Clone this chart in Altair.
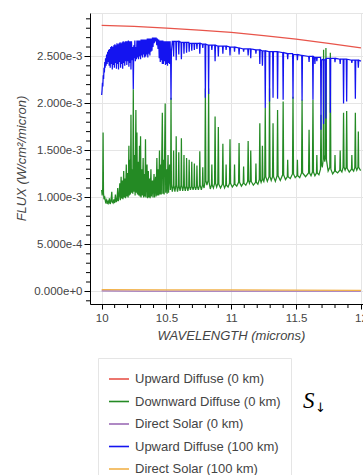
import altair as alt
import pandas as pd

# Flux values below are in units of 1e-3 W/cm^2/micron
UNIT = 1e-3

SERIES = ["Upward Diffuse (0 km)", "Downward Diffuse (0 km)", "Direct Solar (0 km)",
          "Upward Diffuse (100 km)", "Direct Solar (100 km)"]
COLORS = ["#e8544a", "#248a24", "#9b6bb5", "#1414f0", "#f2b24a"]

RED = [(10.00, 2.83), (10.25, 2.82), (10.50, 2.80), (10.75, 2.78), (11.00, 2.755),
       (11.25, 2.72), (11.50, 2.685), (11.75, 2.64), (12.00, 2.59)]

GREEN = [
    (10.000, 1.08), (10.004, 1.02), (10.008, 1.10), (10.011, 1.69), (10.014, 1.05), (10.018, 0.98),
    (10.024, 1.00), (10.030, 0.95), (10.036, 0.97), (10.042, 0.93), (10.048, 0.96), (10.054, 0.94),
    (10.060, 0.99), (10.066, 0.93), (10.072, 0.96), (10.078, 1.06), (10.082, 0.95), (10.088, 0.94),
    (10.094, 0.98), (10.100, 0.94), (10.106, 1.03), (10.112, 0.95), (10.118, 0.97), (10.124, 1.10),
    (10.128, 0.96), (10.134, 1.02), (10.140, 1.15), (10.144, 0.97), (10.150, 1.22), (10.154, 0.99),
    (10.160, 1.18), (10.164, 0.98), (10.170, 1.28), (10.174, 1.00), (10.180, 1.20), (10.184, 0.99),
    (10.190, 1.35), (10.194, 1.01), (10.200, 1.26), (10.204, 1.00), (10.210, 1.55), (10.213, 1.02),
    (10.218, 1.40), (10.222, 1.03), (10.226, 1.88), (10.230, 1.05), (10.236, 1.30), (10.240, 1.04),
    (10.244, 2.15), (10.248, 1.06), (10.254, 1.45), (10.258, 1.02), (10.264, 1.93), (10.268, 1.05),
    (10.272, 1.69), (10.276, 1.03), (10.282, 1.38), (10.286, 1.02), (10.292, 1.55), (10.296, 1.01),
    (10.300, 1.65), (10.304, 1.00), (10.310, 1.30), (10.314, 1.02), (10.320, 1.42), (10.324, 1.00),
    (10.330, 1.25), (10.334, 1.01), (10.338, 1.62), (10.342, 1.00), (10.350, 1.35), (10.354, 0.99),
    (10.360, 1.28), (10.364, 1.00), (10.370, 1.20), (10.374, 0.99), (10.380, 1.30), (10.384, 1.01),
    (10.392, 1.18), (10.396, 1.00), (10.404, 1.25), (10.408, 1.00), (10.416, 1.22), (10.420, 1.01),
    (10.426, 1.42), (10.430, 1.02), (10.436, 1.30), (10.440, 1.02), (10.446, 1.50), (10.450, 1.03),
    (10.456, 1.35), (10.460, 1.03), (10.468, 1.90), (10.472, 1.04), (10.478, 1.40), (10.482, 1.03),
    (10.490, 2.00), (10.494, 1.05), (10.500, 1.30), (10.505, 1.04), (10.512, 1.45), (10.516, 1.05),
    (10.524, 1.35), (10.530, 1.08),
    (10.532, 1.14), (10.535, 2.06), (10.538, 1.14), (10.545, 1.06),
    (10.552, 1.12), (10.555, 1.50), (10.558, 1.12), (10.565, 1.06),
    (10.572, 1.13), (10.575, 1.65), (10.578, 1.13), (10.585, 1.06),
    (10.592, 1.12), (10.595, 1.48), (10.598, 1.12), (10.605, 1.07),
    (10.612, 1.13), (10.615, 1.63), (10.618, 1.13), (10.625, 1.07),
    (10.632, 1.12), (10.635, 1.45), (10.638, 1.12), (10.645, 1.07),
    (10.652, 1.12), (10.655, 1.42), (10.658, 1.12), (10.665, 1.07),
    (10.672, 1.12), (10.675, 1.40), (10.678, 1.12), (10.685, 1.08),
    (10.692, 1.12), (10.695, 1.38), (10.698, 1.12), (10.705, 1.08),
    (10.712, 1.12), (10.715, 1.36), (10.718, 1.12), (10.725, 1.08),
    (10.732, 1.12), (10.735, 1.34), (10.738, 1.12), (10.746, 1.08),
    (10.754, 1.13), (10.757, 1.49), (10.760, 1.13), (10.769, 1.08),
    (10.777, 1.13), (10.780, 1.32), (10.783, 1.13), (10.790, 1.10),
    (10.796, 1.16), (10.800, 2.16), (10.804, 1.18), (10.812, 1.13),
    (10.821, 1.18), (10.825, 2.16), (10.829, 1.16), (10.838, 1.09),
    (10.847, 1.13), (10.850, 1.35), (10.853, 1.13), (10.862, 1.10),
    (10.871, 1.15), (10.875, 1.86), (10.879, 1.15), (10.887, 1.11),
    (10.896, 1.15), (10.900, 1.75), (10.904, 1.14), (10.917, 1.10),
    (10.931, 1.14), (10.935, 1.57), (10.939, 1.14), (10.948, 1.10),
    (10.957, 1.13), (10.960, 1.35), (10.963, 1.13), (10.975, 1.11),
    (10.986, 1.15), (10.990, 1.62), (10.994, 1.15), (11.008, 1.11),
    (11.022, 1.14), (11.025, 1.35), (11.028, 1.14), (11.042, 1.12),
    (11.056, 1.16), (11.060, 1.58), (11.064, 1.16), (11.078, 1.12),
    (11.092, 1.15), (11.095, 1.33), (11.098, 1.15), (11.112, 1.13),
    (11.126, 1.17), (11.130, 1.60), (11.134, 1.18), (11.140, 1.15),
    (11.147, 1.18), (11.150, 1.50), (11.154, 1.17), (11.170, 1.13),
    (11.187, 1.16), (11.190, 1.36), (11.193, 1.16), (11.205, 1.14),
    (11.216, 1.19), (11.220, 1.79), (11.224, 1.19), (11.230, 1.16),
    (11.237, 1.19), (11.240, 1.55), (11.244, 1.19), (11.251, 1.17),
    (11.258, 1.22), (11.262, 1.95), (11.266, 1.22), (11.278, 1.17),
    (11.291, 1.22), (11.295, 2.16), (11.299, 1.22), (11.308, 1.18),
    (11.318, 1.22), (11.322, 1.79), (11.326, 1.22), (11.340, 1.17),
    (11.353, 1.23), (11.357, 1.93), (11.361, 1.23), (11.378, 1.18),
    (11.396, 1.24), (11.400, 2.02), (11.404, 1.24), (11.418, 1.19),
    (11.432, 1.22), (11.435, 1.40), (11.438, 1.22), (11.455, 1.20),
    (11.472, 1.25), (11.476, 2.07), (11.480, 1.25), (11.493, 1.21),
    (11.507, 1.23), (11.510, 1.40), (11.513, 1.23), (11.528, 1.21),
    (11.542, 1.26), (11.546, 2.04), (11.550, 1.26), (11.573, 1.22),
    (11.596, 1.26), (11.600, 1.72), (11.604, 1.26), (11.615, 1.23),
    (11.626, 1.27), (11.630, 2.04), (11.634, 1.27), (11.645, 1.23),
    (11.657, 1.26), (11.660, 1.45), (11.663, 1.26), (11.676, 1.24),
    (11.688, 1.30), (11.692, 1.88), (11.696, 1.35), (11.702, 1.32),
    (11.709, 1.40), (11.712, 2.57), (11.716, 1.45), (11.721, 1.38),
    (11.727, 1.45), (11.730, 2.59), (11.734, 1.40), (11.747, 1.28),
    (11.760, 1.32), (11.764, 2.54), (11.768, 1.30), (11.782, 1.25),
    (11.797, 1.28), (11.800, 1.45), (11.803, 1.28), (11.820, 1.26),
    (11.837, 1.29), (11.840, 1.50), (11.843, 1.29), (11.853, 1.27),
    (11.862, 1.32), (11.866, 1.90), (11.870, 1.32), (11.878, 1.29),
    (11.886, 1.32), (11.890, 1.92), (11.894, 1.31), (11.910, 1.27),
    (11.927, 1.30), (11.930, 1.45), (11.933, 1.30), (11.944, 1.28),
    (11.953, 1.32), (11.957, 1.90), (11.961, 1.32), (11.968, 1.29),
    (11.977, 1.32), (11.980, 1.70), (11.983, 1.32), (11.995, 1.29),
    (12.000, 1.29),
]

PURPLE = [(10.00, 0.005), (10.30, 0.003), (10.60, 0.004), (11.00, 0.004), (11.50, 0.003), (12.00, 0.003)]

BLUE = [
    (10.000, 2.09), (10.003, 2.14), (10.006, 2.22), (10.009, 2.18), (10.012, 2.30), (10.015, 2.26),
    (10.018, 2.38), (10.021, 2.33), (10.024, 2.44), (10.027, 2.38), (10.030, 2.48), (10.034, 2.40),
    (10.038, 2.52), (10.042, 2.42), (10.046, 2.55), (10.050, 2.44), (10.054, 2.57), (10.058, 2.40),
    (10.062, 2.58), (10.066, 2.38), (10.070, 2.60), (10.074, 2.42), (10.078, 2.61), (10.082, 2.36),
    (10.086, 2.60), (10.090, 2.41), (10.094, 2.62), (10.098, 2.38), (10.102, 2.63), (10.106, 2.43),
    (10.110, 2.62), (10.114, 2.37), (10.118, 2.64), (10.122, 2.42), (10.126, 2.63), (10.130, 2.36),
    (10.134, 2.64), (10.138, 2.44), (10.142, 2.65), (10.146, 2.38), (10.150, 2.64), (10.154, 2.42),
    (10.158, 2.65), (10.162, 2.37), (10.166, 2.66), (10.170, 2.43), (10.174, 2.65), (10.178, 2.40),
    (10.182, 2.66), (10.186, 2.45), (10.190, 2.66), (10.194, 2.41), (10.198, 2.66), (10.202, 2.45),
    (10.206, 2.67), (10.210, 2.39), (10.214, 2.66), (10.218, 2.43), (10.222, 2.66), (10.226, 2.36),
    (10.230, 2.66), (10.236, 2.46), (10.240, 2.60), (10.244, 2.15), (10.248, 2.62), (10.252, 2.48),
    (10.256, 2.67), (10.260, 2.45), (10.264, 2.60), (10.268, 2.47), (10.272, 2.67), (10.276, 2.49),
    (10.280, 2.67), (10.284, 2.47), (10.288, 2.67), (10.292, 2.50), (10.296, 2.67), (10.300, 2.47),
    (10.304, 2.68), (10.308, 2.51), (10.312, 2.68), (10.316, 2.49), (10.320, 2.68), (10.324, 2.52),
    (10.328, 2.68), (10.332, 2.49), (10.336, 2.68), (10.340, 2.50), (10.344, 2.68), (10.348, 2.52),
    (10.352, 2.69), (10.356, 2.49), (10.360, 2.69), (10.364, 2.53), (10.368, 2.69), (10.372, 2.51),
    (10.376, 2.69), (10.380, 2.55), (10.384, 2.69), (10.388, 2.56), (10.392, 2.70), (10.396, 2.60),
    (10.400, 2.70), (10.405, 2.64), (10.410, 2.70), (10.415, 2.66), (10.420, 2.70), (10.425, 2.62),
    (10.430, 2.69), (10.435, 2.58), (10.440, 2.68), (10.444, 2.48), (10.448, 2.67), (10.452, 2.44),
    (10.456, 2.67), (10.460, 2.46), (10.464, 2.67), (10.468, 2.42), (10.472, 2.67), (10.476, 2.42),
    (10.480, 2.66), (10.484, 2.45), (10.488, 2.66), (10.492, 2.41), (10.496, 2.66), (10.500, 2.42),
    (10.504, 2.66), (10.508, 2.40), (10.512, 2.66), (10.516, 2.43), (10.520, 2.66), (10.524, 2.42),
    (10.528, 2.66), (10.532, 2.46), (10.535, 2.04), (10.538, 2.55), (10.545, 2.66),
    (10.552, 2.66), (10.555, 2.50), (10.558, 2.66), (10.572, 2.66), (10.575, 2.46), (10.578, 2.66),
    (10.592, 2.66), (10.595, 2.52), (10.598, 2.66), (10.612, 2.65), (10.615, 2.47), (10.618, 2.65),
    (10.632, 2.65), (10.635, 2.53), (10.638, 2.65), (10.652, 2.65), (10.655, 2.54), (10.658, 2.65),
    (10.672, 2.65), (10.675, 2.55), (10.678, 2.64), (10.692, 2.64), (10.695, 2.56), (10.698, 2.64),
    (10.712, 2.64), (10.715, 2.57), (10.718, 2.64), (10.732, 2.64), (10.735, 2.58), (10.738, 2.64),
    (10.754, 2.64), (10.757, 2.53), (10.760, 2.64), (10.777, 2.63), (10.780, 2.59), (10.783, 2.63),
    (10.797, 2.63), (10.800, 2.06), (10.803, 2.63), (10.822, 2.62), (10.825, 2.10), (10.828, 2.62),
    (10.847, 2.62), (10.850, 2.57), (10.853, 2.62), (10.872, 2.62), (10.875, 2.45), (10.878, 2.62),
    (10.897, 2.61), (10.900, 2.50), (10.903, 2.61), (10.932, 2.61), (10.935, 2.53), (10.938, 2.61),
    (10.957, 2.61), (10.960, 2.57), (10.963, 2.61), (10.987, 2.60), (10.990, 2.51), (10.993, 2.60),
    (11.022, 2.60), (11.025, 2.55), (11.028, 2.60), (11.057, 2.59), (11.060, 2.52), (11.063, 2.59),
    (11.092, 2.58), (11.095, 2.55), (11.098, 2.58), (11.127, 2.58), (11.130, 2.51), (11.133, 2.58),
    (11.147, 2.58), (11.150, 2.48), (11.153, 2.58), (11.187, 2.57), (11.190, 2.53), (11.193, 2.57),
    (11.217, 2.57), (11.220, 2.42), (11.223, 2.57), (11.237, 2.56), (11.240, 2.40), (11.243, 2.56),
    (11.259, 2.56), (11.262, 1.95), (11.265, 2.56), (11.292, 2.55), (11.295, 2.02), (11.298, 2.55),
    (11.319, 2.55), (11.322, 2.06), (11.325, 2.55), (11.354, 2.55), (11.357, 2.05), (11.360, 2.55),
    (11.397, 2.54), (11.400, 2.04), (11.403, 2.54), (11.432, 2.53), (11.435, 2.47), (11.438, 2.53),
    (11.473, 2.53), (11.476, 2.05), (11.479, 2.52), (11.507, 2.52), (11.510, 2.46), (11.513, 2.52),
    (11.543, 2.51), (11.546, 2.03), (11.549, 2.51), (11.597, 2.50), (11.600, 2.44), (11.603, 2.50),
    (11.627, 2.50), (11.630, 2.04), (11.633, 2.50), (11.642, 2.49), (11.645, 2.42), (11.648, 2.49),
    (11.657, 2.49), (11.660, 2.45), (11.663, 2.49), (11.689, 2.49), (11.692, 1.72), (11.695, 2.46),
    (11.709, 2.47), (11.712, 1.78), (11.715, 2.46), (11.727, 2.47), (11.730, 1.84), (11.733, 2.48),
    (11.761, 2.48), (11.764, 1.90), (11.767, 2.48), (11.797, 2.48), (11.800, 2.44), (11.803, 2.48),
    (11.837, 2.47), (11.840, 2.42), (11.843, 2.47), (11.863, 2.47), (11.866, 2.00), (11.869, 2.47),
    (11.887, 2.47), (11.890, 2.02), (11.893, 2.47), (11.927, 2.46), (11.930, 2.43), (11.933, 2.46),
    (11.954, 2.46), (11.957, 2.05), (11.960, 2.46), (11.977, 2.46), (11.980, 2.38), (11.983, 2.46),
    (12.000, 2.45),
]

ORANGE = [(10.00, 0.018), (10.50, 0.017), (11.00, 0.015), (11.50, 0.013), (12.00, 0.011)]

X_TICKS = [10, 10.5, 11, 11.5, 12]
X_MINOR = [10.1, 10.2, 10.3, 10.4, 10.6, 10.7, 10.8, 10.9,
           11.1, 11.2, 11.3, 11.4, 11.6, 11.7, 11.8, 11.9]
Y_TICKS = [0, 0.0005, 0.001, 0.0015, 0.002, 0.0025]
Y_MINOR = [-0.0001, 0.0001, 0.0002, 0.0003, 0.0004, 0.0006, 0.0007, 0.0008, 0.0009,
           0.0011, 0.0012, 0.0013, 0.0014, 0.0016, 0.0017, 0.0018, 0.0019,
           0.0021, 0.0022, 0.0023, 0.0024, 0.0026, 0.0027, 0.0028, 0.0029]

rows = []
for name, pts in zip(SERIES, [RED, GREEN, PURPLE, BLUE, ORANGE]):
    for i, (w, f) in enumerate(pts):
        rows.append({"series": name, "wl": w, "flux": f * UNIT, "idx": i})
df = pd.DataFrame(rows)

XT = "WAVELENGTH (microns)"
YT = "FLUX (W/cm²/micron)"
xscale = alt.Scale(domain=[9.91, 12.016], nice=False, zero=False)
yscale = alt.Scale(domain=[-0.000134, 0.002962], nice=False, zero=False)

lines = alt.Chart(df).mark_line(strokeWidth=1.25).encode(
    x=alt.X("wl:Q", title=XT, scale=xscale,
            axis=alt.Axis(values=X_TICKS, format="~g", tickSize=5, labelPadding=3,
                          labelFlush=False, titleX=141, titleY=31, titleBaseline="middle")),
    y=alt.Y("flux:Q", title=YT, scale=yscale,
            axis=alt.Axis(values=Y_TICKS, format=".3e", tickSize=6, labelPadding=2,
                          titleX=-69, titleY=145, titleBaseline="middle")),
    color=alt.Color("series:N", scale=alt.Scale(domain=SERIES, range=COLORS),
                    legend=alt.Legend(title=None, orient="none", legendX=8, legendY=345,
                                      symbolType="stroke", symbolSize=400, symbolStrokeWidth=1.6,
                                      labelFontSize=13, labelColor="#444444", labelFont="Liberation Sans",
                                      labelOffset=5, labelLimit=300, rowPadding=4.5, padding=10,
                                      strokeColor="#e5e5e5", fillColor="white")),
    order="idx:Q",
)

xminor = alt.Chart(pd.DataFrame({"wl": X_MINOR})).mark_rule(color="black", strokeWidth=1).encode(
    x=alt.X("wl:Q", title=XT), y=alt.value(291), y2=alt.value(295))

yminor = alt.Chart(pd.DataFrame({"flux": Y_MINOR})).mark_rule(color="black", strokeWidth=1).encode(
    y=alt.Y("flux:Q", title=YT), x=alt.value(-4), x2=alt.value(0))

s_text = alt.Chart(pd.DataFrame({"t": ["S"]})).mark_text(
    font="Liberation Serif", fontStyle="italic", fontSize=23, align="left",
    baseline="alphabetic", color="black").encode(text="t:N", x=alt.value(213), y=alt.value(395))

arrow_text = alt.Chart(pd.DataFrame({"t": ["↓"]})).mark_text(
    font="DejaVu Sans", fontSize=13, align="left",
    baseline="alphabetic", color="black").encode(text="t:N", x=alt.value(225), y=alt.value(399))

chart = alt.layer(lines, xminor, yminor, s_text, arrow_text).properties(
    width=273, height=291,
    autosize=alt.AutoSizeParams(type="none"),
    padding={"left": 90, "top": 13, "right": 0, "bottom": 171},
    background="white",
).configure_view(stroke="#e5e5e5").configure_axis(
    labelFont="Liberation Sans", labelFontSize=11.5, labelColor="#444444",
    titleFont="Liberation Sans", titleFontSize=13, titleFontStyle="italic",
    titleFontWeight="normal", titleColor="#444444",
    domainColor="black", tickColor="black", gridColor="#e5e5e5",
)

chart.save("out.html", embed_options={"renderer": "svg", "actions": False})
